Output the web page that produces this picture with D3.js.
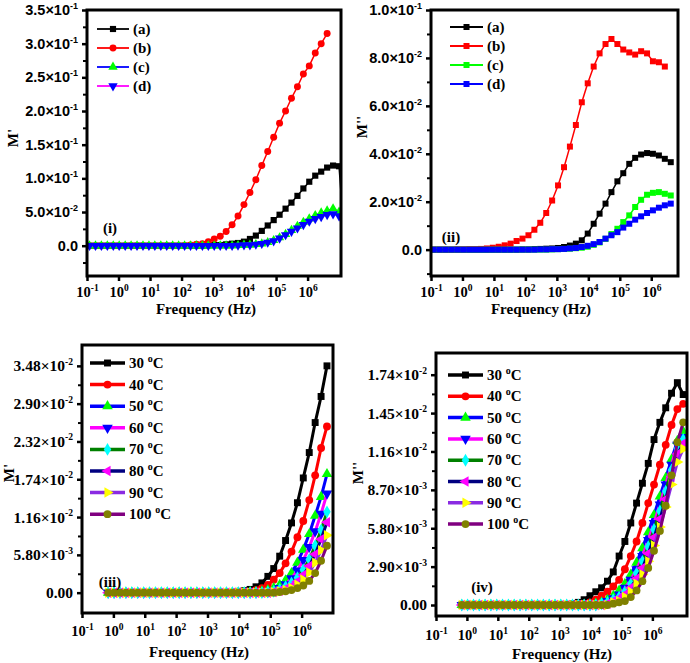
<!DOCTYPE html>
<html><head><meta charset="utf-8">
<script src="https://cdn.jsdelivr.net/npm/d3@7"></script>
<style>body{margin:0;background:#fff}svg{display:block}</style>
</head><body>
<script>
// ---------------- DATA ----------------
const freqAll = [0.120, 0.186, 0.286, 0.442, 0.682, 1.05, 1.63, 2.51, 3.87, 5.98,
  9.23, 14.2, 22.0, 33.9, 52.4, 80.8, 125, 193, 297, 459,
  708, 1090, 1690, 2600, 4020, 6200, 9570, 14800, 22800, 35200,
  54300, 83900, 129000, 200000, 308000, 476000, 735000, 1130000, 1750000, 2700000,
  4170000, 6430000, 9930000, 15300000];
const freqTop = freqAll;                 // panels (i), (ii)
const freqIII = freqAll.slice(4, 42);    // panel (iii)
const freqIV = freqAll.slice(4, 43);     // panel (iv)

const labelsABCD = ["(a)", "(b)", "(c)", "(d)"];
const labelsTemp = ["30", "40", "50", "60", "70", "80", "90", "100"];

// Panel (i) M'
const mReal_a = [0,0,0,0,0,0,0,0,0,0, 0,0,0,0,0,0,0,0,0,0,
  0.0005,0.001,0.001,0.002,0.003,0.004,0.006,0.010,0.015,0.022,
  0.030,0.038,0.046,0.055,0.064,0.074,0.085,0.095,0.104,0.110,
  0.116,0.119,0.118,0.0];
const mReal_b = [0,0,0,0,0,0,0,0,0,0, 0,0,0,0,0,0,0.0005,0.001,0.002,0.003,
  0.006,0.010,0.014,0.021,0.031,0.044,0.061,0.079,0.098,0.119,
  0.140,0.161,0.182,0.200,0.219,0.236,0.255,0.267,0.286,0.300,
  0.315];
const mReal_c = [0,0,0,0,0,0,0,0,0,0, 0,0,0,0,0,0,0,0,0,0,
  0,0,0,0,0,0.0005,0.001,0.001,0.002,0.003,
  0.005,0.008,0.012,0.017,0.023,0.029,0.035,0.040,0.045,0.049,
  0.052,0.055,0.050,0.0];
const mReal_d = [0,0,0,0,0,0,0,0,0,0, 0,0,0,0,0,0,0,0,0,0,
  0,0,0,0,0,0.0005,0.001,0.001,0.002,0.003,
  0.005,0.007,0.011,0.016,0.021,0.026,0.031,0.036,0.040,0.043,
  0.046,0.047,0.044];

// Panel (ii) M''
const mImag_a = [0,0,0,0,0,0,0,0,0,0, 0,0,0,0,0,0.0001,0.0001,0.0002,0.0003,0.0004,
  0.0005,0.0007,0.0011,0.0017,0.0025,0.0039,0.0067,0.0108,0.0150,0.0192,
  0.0240,0.0285,0.0319,0.0358,0.0383,0.0397,0.0403,0.0400,0.0393,0.0379,
  0.0365];
const mImag_b = [0,0,0,0,0.0001,0.0001,0.0002,0.0002,0.0003,0.0005,
  0.0008,0.0012,0.0018,0.0025,0.0036,0.0046,0.0060,0.0083,0.0112,0.0153,
  0.0205,0.0268,0.0344,0.0430,0.0520,0.0615,0.0694,0.0764,0.0819,0.0858,
  0.0879,0.0858,0.0835,0.0823,0.0814,0.0828,0.0819,0.0786,0.0782,0.0764];
const mImag_c = [0,0,0,0,0,0,0,0,0,0, 0,0,0,0,0,0,0,0,0,0,
  0.0001,0.0002,0.0003,0.0004,0.0006,0.0008,0.0012,0.0020,0.0030,0.0045,
  0.0065,0.0087,0.0115,0.0143,0.0178,0.0208,0.0229,0.0237,0.0240,0.0233,
  0.0226];
const mImag_d = [0,0,0,0,0,0,0,0,0,0, 0,0,0,0,0,0,0,0,0.0001,0.0001,
  0.0002,0.0002,0.0003,0.0005,0.0007,0.0011,0.0016,0.0023,0.0032,0.0046,
  0.0060,0.0073,0.0092,0.0108,0.0125,0.0139,0.0153,0.0164,0.0175,0.0185,
  0.0192];

// Panel (iii) M' vs temperature
const t30 = [0,0,0,0,0,0,0,0,0,0,0,0,0,0,0,0,0,0,0,0,0,0,
  0.0002,0.0003,0.0005,0.0009,0.0015,0.0025,0.0037,0.0056,0.0080,0.0107,0.0138,0.0176,0.0215,0.0261,0.0301,0.0348];
const t40 = [0,0,0,0,0,0,0,0,0,0,0,0,0,0,0,0,0,0,0,0,0,0,
  0.0001,0.0001,0.0002,0.0004,0.0007,0.0012,0.0020,0.0030,0.0045,0.0063,0.0085,0.0110,0.0142,0.0180,0.0222,0.0255];
const t50 = [0,0,0,0,0,0,0,0,0,0,0,0,0,0,0,0,0,0,0,0,0,0,
  0,0,0.0001,0.0001,0.0002,0.0004,0.0007,0.0012,0.0019,0.0030,0.0046,0.0066,0.0090,0.0118,0.0147,0.0182];
const t60 = [0,0,0,0,0,0,0,0,0,0,0,0,0,0,0,0,0,0,0,0,0,0,
  0,0,0,0,0.0001,0.0001,0.0003,0.0007,0.0013,0.0022,0.0034,0.0050,0.0070,0.0094,0.0121,0.0152];
const t70 = [0,0,0,0,0,0,0,0,0,0,0,0,0,0,0,0,0,0,0,0,0,0,
  0,0,0,0,0,0.0001,0.0002,0.0005,0.0009,0.0015,0.0023,0.0035,0.0051,0.0072,0.0096,0.0124];
const t80 = [0,0,0,0,0,0,0,0,0,0,0,0,0,0,0,0,0,0,0,0,0,0,
  0,0,0,0,0,0,0.0001,0.0003,0.0006,0.0010,0.0017,0.0027,0.0041,0.0059,0.0082,0.0108];
const t90 = [0,0,0,0,0,0,0,0,0,0,0,0,0,0,0,0,0,0,0,0,0,0,
  0,0,0,0,0,0,0.0001,0.0002,0.0004,0.0007,0.0012,0.0020,0.0031,0.0046,0.0065,0.0088];
const t100 = [0,0,0,0,0,0,0,0,0,0,0,0,0,0,0,0,0,0,0,0,0,0,
  0,0,0,0,0,0,0,0.0001,0.0002,0.0004,0.0007,0.0011,0.0018,0.0030,0.0049,0.0072];

// Panel (iv) M'' vs temperature
const u30 = [0,0,0,0,0,0,0,0,0,0,0,0,0,0,0,0,0,0,0,
  0.0001,0.0002,0.0004,0.0007,0.0010,0.0013,0.0018,0.0025,0.0037,0.0048,0.0062,0.0077,0.0092,0.0107,0.0125,0.0138,0.0149,0.0160,0.0168,0.0159];
const u40 = [0,0,0,0,0,0,0,0,0,0,0,0,0,0,0,0,0,0,0,
  0,0.0001,0.0001,0.0002,0.0004,0.0007,0.0010,0.0014,0.0019,0.0027,0.0037,0.0048,0.0062,0.0077,0.0091,0.0106,0.0121,0.0136,0.0148,0.0152];
const u50 = [0,0,0,0,0,0,0,0,0,0,0,0,0,0,0,0,0,0,0,
  0,0,0,0,0.0001,0.0002,0.0004,0.0007,0.0011,0.0016,0.0023,0.0032,0.0043,0.0055,0.0068,0.0082,0.0096,0.0110,0.0124,0.0131];
const u60 = [0,0,0,0,0,0,0,0,0,0,0,0,0,0,0,0,0,0,0,
  0,0,0,0,0,0.0001,0.0003,0.0005,0.0008,0.0013,0.0019,0.0027,0.0037,0.0049,0.0062,0.0076,0.0091,0.0106,0.0121,0.0127];
const u70 = [0,0,0,0,0,0,0,0,0,0,0,0,0,0,0,0,0,0,0,
  0,0,0,0,0,0.0001,0.0002,0.0004,0.0006,0.0010,0.0016,0.0024,0.0033,0.0044,0.0057,0.0071,0.0086,0.0102,0.0118,0.0125];
const u80 = [0,0,0,0,0,0,0,0,0,0,0,0,0,0,0,0,0,0,0,
  0,0,0,0,0,0,0.0001,0.0003,0.0005,0.0008,0.0013,0.0020,0.0028,0.0039,0.0051,0.0065,0.0080,0.0097,0.0114,0.0122];
const u90 = [0,0,0,0,0,0,0,0,0,0,0,0,0,0,0,0,0,0,0,
  0,0,0,0,0,0,0,0.0002,0.0003,0.0006,0.0010,0.0016,0.0023,0.0033,0.0045,0.0059,0.0074,0.0091,0.0108,0.0118];
const u100 = [0,0,0,0,0,0,0,0,0,0,0,0,0,0,0,0,0,0,0,
  0,0,0,0,0,0,0,0.0001,0.0002,0.0003,0.0006,0.0011,0.0018,0.0028,0.0041,0.0056,0.0075,0.0098,0.0123,0.0138];

// tick values & labels
const xTicks = [0.1, 1, 10, 100, 1e3, 1e4, 1e5, 1e6];
const xTickExp = ["-1", "0", "1", "2", "3", "4", "5", "6"];
const yTicksI = [0, 0.05, 0.10, 0.15, 0.20, 0.25, 0.30, 0.35];
const yLabelsI = ["0.0", "5.0×10^-2", "1.0×10^-1", "1.5×10^-1", "2.0×10^-1", "2.5×10^-1", "3.0×10^-1", "3.5×10^-1"];
const yTicksII = [0, 0.02, 0.04, 0.06, 0.08, 0.10];
const yLabelsII = ["0.0", "2.0×10^-2", "4.0×10^-2", "6.0×10^-2", "8.0×10^-2", "1.0×10^-1"];
const yTicksIII = [0, 0.0058, 0.0116, 0.0174, 0.0232, 0.0290, 0.0348];
const yLabelsIII = ["0.00", "5.80×10^-3", "1.16×10^-2", "1.74×10^-2", "2.32×10^-2", "2.90×10^-2", "3.48×10^-2"];
const yTicksIV = [0, 0.0029, 0.0058, 0.0087, 0.0116, 0.0145, 0.0174];
const yLabelsIV = ["0.00", "2.90×10^-3", "5.80×10^-3", "8.70×10^-3", "1.16×10^-2", "1.45×10^-2", "1.74×10^-2"];

// ---------------- DRAWING ----------------
const SERIF = "'Liberation Serif','Times New Roman',serif";
const SANS = "'Liberation Sans',Arial,sans-serif";
const svg = d3.select("body").append("svg").attr("width", 690).attr("height", 663);

const SQ = d3.symbolSquare, CI = d3.symbolCircle, TR = d3.symbolTriangle, DI = d3.symbolDiamond;
const tempStyles = [
  {line: "#000000", marker: "#000000", shape: SQ, rot: 0},
  {line: "#ff0000", marker: "#ff0000", shape: CI, rot: 0},
  {line: "#0000ff", marker: "#00ff00", shape: TR, rot: 0},
  {line: "#ff00ff", marker: "#0000ff", shape: TR, rot: 180},
  {line: "#008000", marker: "#00ffff", shape: DI, rot: 0},
  {line: "#000080", marker: "#ff00ff", shape: TR, rot: -90},
  {line: "#8a2be2", marker: "#ffff00", shape: TR, rot: 90},
  {line: "#800080", marker: "#808000", shape: CI, rot: 0}
];

function addRich(sel, str, supSize, supDy) {
  const parts = str.split("^");
  sel.append("tspan").text(parts[0]);
  if (parts.length > 1) sel.append("tspan").attr("font-size", supSize).attr("dy", supDy).text(parts[1]);
}

function drawPanel(c) {
  const x = d3.scaleLog().domain(c.xDomain).range([c.left, c.right]);
  const y = d3.scaleLinear().domain(c.yDomain).range([c.bottom, c.top]);
  const g = svg.append("g");
  const cid = "clip" + c.name;
  svg.append("clipPath").attr("id", cid).append("rect")
    .attr("x", c.left).attr("y", c.top).attr("width", c.right - c.left).attr("height", c.bottom - c.top);
  const plot = g.append("g").attr("clip-path", `url(#${cid})`);
  c.series.forEach(s => {
    const pts = s.values.map((v, i) => [c.freq[i], v]);
    plot.append("path").attr("d", d3.line().x(d => x(d[0])).y(d => y(d[1]))(pts))
      .attr("fill", "none").attr("stroke", s.line).attr("stroke-width", c.lw).attr("stroke-linejoin", "round");
    plot.append("g").selectAll("path").data(pts).enter().append("path")
      .attr("transform", d => `translate(${x(d[0])},${y(d[1])}) rotate(${s.rot})`)
      .attr("d", d3.symbol().type(s.shape).size(c.ms)).attr("fill", s.marker);
  });
  // frame
  g.append("rect").attr("x", c.left).attr("y", c.top).attr("width", c.right - c.left).attr("height", c.bottom - c.top)
    .attr("fill", "none").attr("stroke", "#000").attr("stroke-width", 3);
  // y axis major
  const ya = g.append("g").attr("transform", `translate(${c.left - 1},0)`)
    .call(d3.axisLeft(y).tickValues(c.yTicks).tickSize(4).tickPadding(4).tickFormat((d, i) => c.yLabels[i]));
  ya.select(".domain").remove();
  ya.selectAll("line").attr("stroke-width", 2.5);
  ya.selectAll("text").attr("font-family", c.yFont).attr("font-size", c.yFs).attr("font-weight", "bold").attr("fill", "#000")
    .each(function(d, i) { const t = d3.select(this); t.text(null); addRich(t, c.yLabels[i], c.yFs * 0.62, -c.yFs * 0.42); });
  // y minor
  const ym = g.append("g").attr("transform", `translate(${c.left - 1},0)`)
    .call(d3.axisLeft(y).tickValues(c.yMinor).tickSize(3).tickFormat(""));
  ym.select(".domain").remove();
  ym.selectAll("line").attr("stroke-width", 2);
  // x axis
  const xa = g.append("g").attr("transform", `translate(0,${c.bottom + 1})`)
    .call(d3.axisBottom(x).tickValues(xTicks).tickSize(4).tickPadding(c.xPad).tickFormat((d, i) => "10"));
  xa.select(".domain").remove();
  xa.selectAll("line").attr("stroke-width", 2.5);
  xa.selectAll("text").attr("font-family", SERIF).attr("font-size", 14.5).attr("font-weight", "bold").attr("fill", "#000")
    .each(function(d, i) { const t = d3.select(this); t.text(null);
      t.append("tspan").text("10");
      t.append("tspan").attr("font-size", 9.5).attr("dy", -6).text(xTickExp[i]); });
  // axis titles
  g.append("text").attr("x", c.titleX).attr("y", c.titleY).attr("text-anchor", "middle")
    .attr("font-family", SERIF).attr("font-weight", "bold").attr("font-size", 15).text("Frequency (Hz)");
  g.append("text").attr("transform", `translate(${c.yTitleX},${c.yTitleY}) rotate(-90)`).attr("text-anchor", "middle")
    .attr("font-family", SERIF).attr("font-weight", "bold").attr("font-size", 15).text(c.yTitle);
  // panel tag
  g.append("text").attr("x", c.tagX).attr("y", c.tagY).attr("text-anchor", "middle")
    .attr("font-family", SERIF).attr("font-weight", "bold").attr("font-size", 15).text(c.tag);
  // legend
  c.series.forEach((s, i) => {
    const ly = c.legY + i * c.legDy;
    g.append("line").attr("x1", c.legX1).attr("x2", c.legX2).attr("y1", ly).attr("y2", ly)
      .attr("stroke", s.line).attr("stroke-width", c.legLw);
    g.append("path").attr("transform", `translate(${(c.legX1 + c.legX2) / 2},${ly}) rotate(${s.rot})`)
      .attr("d", d3.symbol().type(s.shape).size(c.ms)).attr("fill", s.marker);
    const t = g.append("text").attr("x", c.legX2 + 4).attr("y", ly + 5)
      .attr("font-family", SERIF).attr("font-weight", "bold").attr("font-size", 15);
    if (c.temp) {
      t.append("tspan").text(labelsTemp[i] + " ");
      t.append("tspan").attr("font-size", 10).attr("dy", -6).text("o");
      t.append("tspan").attr("dy", 6).text("C");
    } else t.text(labelsABCD[i]);
  });
}

// Panel (i)
drawPanel({
  name: "i", freq: freqTop, left: 87, right: 341, top: 10, bottom: 276,
  xDomain: [0.1, Math.pow(10, 7.06)], yDomain: [-0.045, 0.35],
  yTicks: yTicksI, yLabels: yLabelsI, yMinor: [-0.025, 0.025, 0.075, 0.125, 0.175, 0.225, 0.275, 0.325],
  yFont: SANS, yFs: 14.5, xPad: 6, lw: 1.5, ms: 38,
  titleX: 206, titleY: 314, yTitle: "M'", yTitleX: 18, yTitleY: 138,
  tag: "(i)", tagX: 110, tagY: 233,
  legX1: 97, legX2: 129, legY: 29, legDy: 19, legLw: 1.8, temp: false,
  series: [
    {values: mReal_a, line: "#000000", marker: "#000000", shape: SQ, rot: 0},
    {values: mReal_b, line: "#ff0000", marker: "#ff0000", shape: CI, rot: 0},
    {values: mReal_c, line: "#0000ff", marker: "#00ff00", shape: TR, rot: 0},
    {values: mReal_d, line: "#ff00ff", marker: "#0000ff", shape: TR, rot: 180}
  ]
});

// Panel (ii)
drawPanel({
  name: "ii", freq: freqTop, left: 431, right: 678, top: 10, bottom: 276,
  xDomain: [0.1, Math.pow(10, 6.85)], yDomain: [-0.011, 0.1],
  yTicks: yTicksII, yLabels: yLabelsII, yMinor: [-0.01, 0.01, 0.03, 0.05, 0.07, 0.09],
  yFont: SANS, yFs: 14.5, xPad: 6, lw: 1.5, ms: 36,
  titleX: 541, titleY: 314, yTitle: "M''", yTitleX: 367, yTitleY: 127,
  tag: "(ii)", tagX: 451, tagY: 242,
  legX1: 450, legX2: 483, legY: 27, legDy: 19, legLw: 1.8, temp: false,
  series: [
    {values: mImag_a, line: "#000000", marker: "#000000", shape: SQ, rot: 0},
    {values: mImag_b, line: "#ff0000", marker: "#ff0000", shape: SQ, rot: 0},
    {values: mImag_c, line: "#00ff00", marker: "#00ff00", shape: SQ, rot: 0},
    {values: mImag_d, line: "#0000ff", marker: "#0000ff", shape: SQ, rot: 0}
  ]
});

// Panel (iii)
const tempIII = [t30, t40, t50, t60, t70, t80, t90, t100];
drawPanel({
  name: "iii", freq: freqIII, left: 82, right: 333, top: 345, bottom: 613,
  xDomain: [0.1, 1e7], yDomain: [-0.00312, 0.038],
  yTicks: yTicksIII, yLabels: yLabelsIII, yMinor: [0.0029, 0.0087, 0.0145, 0.0203, 0.0261, 0.0319],
  yFont: SERIF, yFs: 15.5, xPad: 8, lw: 3, ms: 48,
  titleX: 199, titleY: 657, yTitle: "M'", yTitleX: 14, yTitleY: 473,
  tag: "(iii)", tagX: 110, tagY: 587,
  legX1: 90, legX2: 125, legY: 363, legDy: 21.6, legLw: 3.5, temp: true,
  series: tempIII.map((v, i) => Object.assign({values: v}, tempStyles[i]))
});

// Panel (iv)
const tempIV = [u30, u40, u50, u60, u70, u80, u90, u100];
drawPanel({
  name: "iv", freq: freqIV, left: 436, right: 687, top: 353, bottom: 616,
  xDomain: [0.1, Math.pow(10, 7.12)], yDomain: [-0.00083, 0.01904],
  yTicks: yTicksIV, yLabels: yLabelsIV, yMinor: [0.00145, 0.00435, 0.00725, 0.01015, 0.01305, 0.01595],
  yFont: SERIF, yFs: 15.5, xPad: 9, lw: 3, ms: 48,
  titleX: 562, titleY: 659, yTitle: "M''", yTitleX: 363, yTitleY: 473,
  tag: "(iv)", tagX: 482, tagY: 592,
  legX1: 448, legX2: 483, legY: 375, legDy: 21.3, legLw: 3.5, temp: true,
  series: tempIV.map((v, i) => Object.assign({values: v}, tempStyles[i]))
});
</script>
</body></html>
